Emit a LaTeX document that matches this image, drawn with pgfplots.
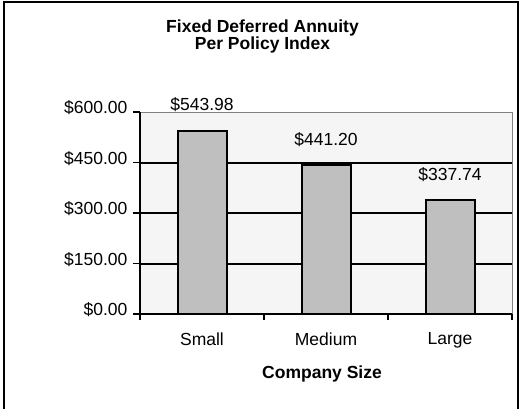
\documentclass[border=0pt]{standalone}
\usepackage{pgfplots}
\pgfplotsset{compat=1.18}
\usepackage{fontspec}
\setmainfont{Liberation Sans}
\pgfkeys{/pgf/number format/assume math mode=true}
\begin{document}
\begin{tikzpicture}[x=1pt,y=1pt]
\useasboundingbox (0,0) rectangle (522,408);
\fill[white] (0,0) rectangle (522,408);
\draw[line width=2pt] (4,-10) rectangle (518,406);
\node[anchor=base,font=\fontsize{17.5}{20}\selectfont\bfseries] at (262.5,375.5) {Fixed Deferred Annuity};
\node[anchor=base,font=\fontsize{17.5}{20}\selectfont\bfseries] at (262.5,359) {Per Policy Index};
\node[anchor=base,font=\fontsize{17.5}{20}\selectfont\bfseries] at (322,30) {Company Size};
\begin{axis}[
 at={(140pt,94pt)}, anchor=south west,
 scale only axis, width=372pt, height=202pt,
 xmin=0, xmax=3, ymin=0, ymax=600,
 ybar, bar width=49pt,
 axis x line*=bottom, axis y line*=left,
 axis line style={-, black, line width=2pt},
 axis background/.style={fill=black!4, draw=black!50, line width=1pt},
 xtick={0.5,1.5,2.5}, xticklabels={Small,Medium,Large},
 major x tick style={draw=none},
 minor xtick={0,1,2,3},
 minor x tick style={black, line width=1.5pt},
 minor tick length=6pt,
 ytick={0,150,300,450,600},
 y tick style={black, line width=1.5pt},
 major tick length=7pt,
 tick align=outside,
 tick label style={font=\fontsize{17.5}{20}\selectfont},
 xticklabel style={yshift=-8pt},
 yticklabel={\$\pgfmathprintnumber[fixed,fixed zerofill,precision=2]{\tick}},
 yticklabel style={yshift=4pt, xshift=-2pt},
 extra y ticks={150,300,450}, extra y tick labels={},
 extra y tick style={grid=major, major grid style={black, line width=2pt}},
 nodes near coords={\$\pgfmathprintnumber[fixed,fixed zerofill,precision=2]{\pgfplotspointmeta}},
 nodes near coords style={font=\fontsize{17.5}{20}\selectfont, anchor=base, yshift=20pt},
]
\addplot[fill=black!25, draw=black, line width=2pt] coordinates {(0.5,543.98) (1.5,441.20) (2.5,337.74)};
\end{axis}
\end{tikzpicture}
\end{document}
